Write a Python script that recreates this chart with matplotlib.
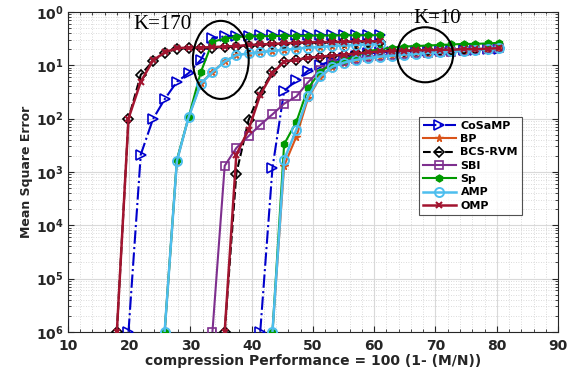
import matplotlib
matplotlib.use("Agg")
import matplotlib.pyplot as plt
from matplotlib.patches import Ellipse
from matplotlib.ticker import AutoMinorLocator, FixedLocator, LogLocator, NullFormatter

# ---------------------------------------------------------------------------
# Data: x grid (compression performance) and MSE values
# ---------------------------------------------------------------------------
X = [18.0, 19.9, 21.9, 23.9, 25.8, 27.8, 29.7, 31.7, 33.6, 35.6, 37.5, 39.5,
     41.4, 43.4, 45.3, 47.3, 49.2, 51.2, 53.1, 55.1, 57.0, 59.0, 60.9, 62.9,
     64.8, 66.8, 68.7, 70.7, 72.6, 74.6, 76.5, 78.5, 80.4]

# K = 170 (each series starts at the given grid index)
COSAMP_170 = [1e-6, 0.0021, 0.0098, 0.023, 0.049, 0.071, 0.126, 0.324, 0.347,
              0.355, 0.359, 0.363, 0.363, 0.363, 0.367, 0.367, 0.367, 0.37,
              0.37, 0.37, 0.372, 0.372]
BP_170 = [1e-6, 0.0016, 0.0105, 0.046, 0.075, 0.118, 0.156, 0.167, 0.175,
          0.187, 0.196, 0.205, 0.215, 0.22, 0.23, 0.235, 0.241, 0.246, 0.252]
BCS_170 = [1e-6, 0.01, 0.066, 0.12, 0.17, 0.204, 0.209, 0.209, 0.214, 0.219,
           0.224, 0.234, 0.24, 0.245, 0.251, 0.257, 0.263, 0.263, 0.269,
           0.269, 0.275, 0.275, 0.275]
SP_170 = [1e-6, 0.0017, 0.0105, 0.074, 0.275, 0.316, 0.339, 0.347, 0.35,
          0.352, 0.355, 0.355, 0.358, 0.36, 0.36, 0.363, 0.363, 0.365, 0.365]
AMP_170 = [1e-6, 0.0016, 0.0105, 0.045, 0.074, 0.117, 0.155, 0.166, 0.174,
           0.186, 0.195, 0.204, 0.214, 0.219, 0.229, 0.234, 0.24, 0.245, 0.251]
OMP_170 = [1e-6, 0.01, 0.049, 0.123, 0.174, 0.209, 0.214, 0.214, 0.219, 0.224,
           0.229, 0.24, 0.245, 0.251, 0.257, 0.263, 0.269, 0.269, 0.275,
           0.275, 0.282, 0.282, 0.282]

# K = 10
COSAMP_10 = [1e-6, 0.0012, 0.033, 0.052, 0.079, 0.102, 0.12, 0.138, 0.151,
             0.166, 0.174, 0.178, 0.182, 0.186, 0.186, 0.191, 0.191, 0.195,
             0.195, 0.2, 0.2]
BP_10 = [1e-6, 0.0013, 0.0046, 0.024, 0.06, 0.092, 0.111, 0.125, 0.134, 0.144,
         0.15, 0.157, 0.161, 0.169, 0.173, 0.181, 0.185, 0.194, 0.199, 0.208]
BCS_10 = [1e-6, 0.00093, 0.0094, 0.031, 0.076, 0.117, 0.126, 0.138, 0.145,
          0.151, 0.158, 0.166, 0.174, 0.182, 0.186, 0.186, 0.191, 0.191,
          0.195, 0.195, 0.2, 0.2, 0.204, 0.209]
SBI_10 = [1e-6, 0.0013, 0.0028, 0.0047, 0.0076, 0.012, 0.019, 0.026, 0.048,
          0.081, 0.105, 0.12, 0.132, 0.145, 0.151, 0.158, 0.162, 0.166, 0.17,
          0.174, 0.178, 0.186, 0.191, 0.2, 0.209]
SP_10 = [1e-6, 0.0033, 0.0087, 0.037, 0.076, 0.105, 0.126, 0.151, 0.182, 0.2,
         0.214, 0.224, 0.229, 0.234, 0.24, 0.245, 0.251, 0.251, 0.257, 0.263]
AMP_10 = [1e-6, 0.0017, 0.0062, 0.026, 0.062, 0.093, 0.112, 0.126, 0.135,
          0.145, 0.151, 0.158, 0.162, 0.17, 0.174, 0.182, 0.186, 0.195, 0.2,
          0.209]
OMP_10 = [1e-6, 0.0021, 0.0062, 0.028, 0.071, 0.117, 0.126, 0.138, 0.145,
          0.151, 0.158, 0.166, 0.174, 0.182, 0.186, 0.186, 0.191, 0.191, 0.195,
          0.195, 0.2, 0.2, 0.204, 0.209]

# (label, [(start index, values), ...])
SERIES = [
    ("CoSaMP", [(1, COSAMP_170), (12, COSAMP_10)]),
    ("BP", [(4, BP_170), (13, BP_10)]),
    ("BCS-RVM", [(0, BCS_170), (9, BCS_10)]),
    ("SBI", [(8, SBI_10)]),
    ("Sp", [(4, SP_170), (13, SP_10)]),
    ("AMP", [(4, AMP_170), (13, AMP_10)]),
    ("OMP", [(0, OMP_170), (9, OMP_10)]),
]

STYLES = {
    "CoSaMP": dict(color="#0000cc", ls="-.", marker=">", mfc="none", ms=6.5, lw=1.5, mew=1.2),
    "BP": dict(color="#d95319", ls="-", marker="*", mfc="#d95319", ms=5.5, lw=1.5),
    "BCS-RVM": dict(color="black", ls="--", marker="D", mfc="none", ms=5, lw=1.5, mew=1.2),
    "SBI": dict(color="#7e2f8e", ls="-", marker="s", mfc="none", ms=5.5, lw=1.5, mew=1.2),
    "Sp": dict(color="#009900", ls="-", marker="h", mfc="#009900", ms=5, lw=1.5),
    "AMP": dict(color="#4dbeee", ls="-", marker="o", mfc="none", ms=6.5, lw=1.8, mew=1.4),
    "OMP": dict(color="#a2142f", ls="-", marker="x", ms=4.5, lw=1.8, mew=1.5),
}

plt.rcParams.update({
    "font.family": "DejaVu Sans",
    "font.weight": "bold",
    "axes.labelweight": "bold",
    "mathtext.default": "bf",
})

fig = plt.figure(figsize=(5.7, 3.72), dpi=100)
ax = fig.add_axes([0.119, 0.108, 0.860, 0.860])

for name, parts in SERIES:
    st = STYLES[name]
    for k, (i0, vals) in enumerate(parts):
        ax.plot(X[i0:i0 + len(vals)], vals, label=name if k == 0 else None,
                zorder=3, **st)

ax.set_yscale("log")
ax.set_xlim(10, 90)
ax.set_ylim(1e-6, 1)

ax.xaxis.set_major_locator(FixedLocator(range(10, 91, 10)))
ax.xaxis.set_minor_locator(AutoMinorLocator(5))
ax.yaxis.set_major_locator(FixedLocator([10.0 ** e for e in range(-6, 1)]))
ax.yaxis.set_minor_locator(LogLocator(base=10, subs=range(2, 10)))
ax.yaxis.set_minor_formatter(NullFormatter())
ax.set_yticklabels([r"$\mathbf{10^{%d}}$" % e for e in range(6, -1, -1)])

ax.tick_params(which="both", direction="in", top=True, right=True,
               labelsize=10, colors="#262626")
ax.tick_params(which="major", length=4)
ax.tick_params(which="minor", length=2)
ax.tick_params(axis="x", pad=5)
ax.tick_params(axis="y", pad=3)
for lab in ax.get_xticklabels():
    lab.set_fontweight("bold")

ax.grid(True, which="major", color="#d9d9d9", lw=0.8)
ax.grid(True, which="minor", color="#cfcfcf", lw=0.6, ls=(0, (1, 2)))
ax.set_axisbelow(True)
for sp in ax.spines.values():
    sp.set_color("#262626")

ax.set_xlabel("compression Performance = 100 (1- (M/N))", fontsize=10,
              fontweight="bold", color="#262626", labelpad=1)
ax.set_ylabel("Mean Square Error", fontsize=9, fontweight="bold",
              color="#262626", labelpad=2)

# annotations
ax.text(0.194, 0.99, "K=170", transform=ax.transAxes, family="Liberation Serif",
        fontweight="normal", fontsize=15, ha="center", va="top")
ax.text(0.753, 1.01, "K=10", transform=ax.transAxes, family="Liberation Serif",
        fontweight="normal", fontsize=15, ha="center", va="top")
ax.add_patch(Ellipse((0.312, 0.85), 0.114, 0.244, transform=ax.transAxes,
                     fill=False, ec="black", lw=1.5, zorder=5))
ax.add_patch(Ellipse((0.729, 0.866), 0.114, 0.172, transform=ax.transAxes,
                     fill=False, ec="black", lw=1.5, zorder=5))

leg = ax.legend(loc="upper left", bbox_to_anchor=(0.716, 0.672), fontsize=8,
                frameon=True, fancybox=False, borderpad=0.35, labelspacing=0.3,
                handlelength=3.0, handletextpad=0.4, borderaxespad=0)
leg.get_frame().set_edgecolor("#262626")
leg.get_frame().set_linewidth(0.8)
for t in leg.get_texts():
    t.set_fontweight("bold")

fig.savefig("out.png", dpi=100)
